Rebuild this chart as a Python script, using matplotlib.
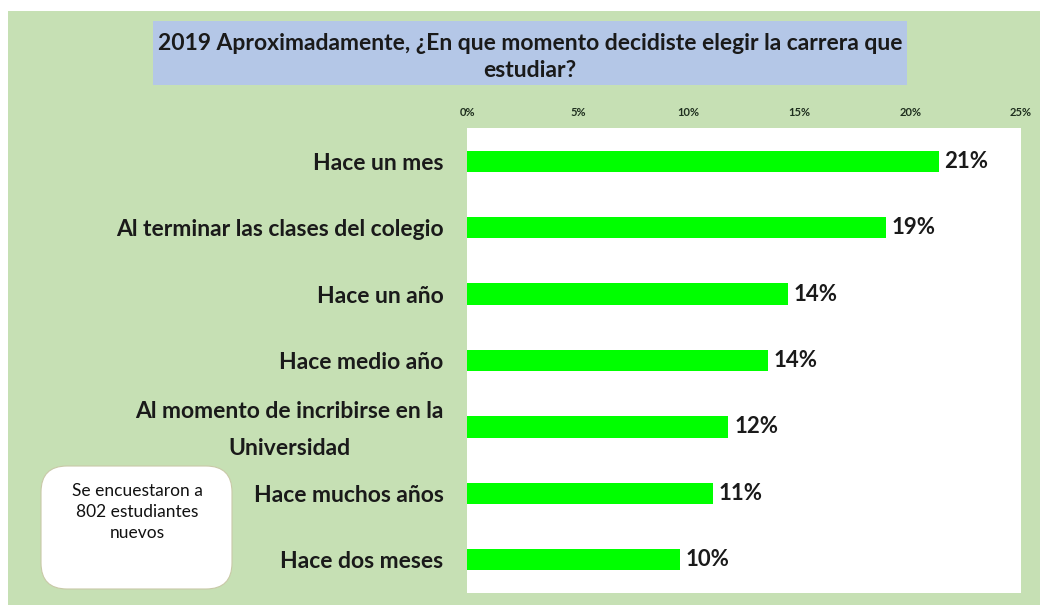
import matplotlib
matplotlib.use("Agg")
import matplotlib.pyplot as plt
from matplotlib.patches import Rectangle, FancyBboxPatch
from matplotlib.transforms import ScaledTranslation

plt.rcParams['font.family'] = ['Lato', 'DejaVu Sans']

categories = [
    "Hace un mes",
    "Al terminar las clases del colegio",
    "Hace un año",
    "Hace medio año",
    "Al momento de incribirse en la\nUniversidad",
    "Hace muchos años",
    "Hace dos meses",
]
values = [21.3, 18.9, 14.5, 13.6, 11.8, 11.1, 9.6]
value_labels = ["21%", "19%", "14%", "14%", "12%", "11%", "10%"]
xticks = [0, 5, 10, 15, 20, 25]
xtick_labels = ["0%", "5%", "10%", "15%", "20%", "25%"]
title = "2019 Aproximadamente, ¿En que momento decidiste elegir la carrera que\nestudiar?"
note = "Se encuestaron a\n802 estudiantes\nnuevos"

W, H = 1040, 605
fig = plt.figure(figsize=(W / 100, H / 100), dpi=100)
fig.patch.set_facecolor("white")

def fx(px):
    return px / W

def fy(py):
    return 1 - py / H

# green background panel
fig.patches.append(Rectangle((fx(8), 0), 1 - fx(8), fy(11), transform=fig.transFigure,
                             facecolor="#c6e0b4", edgecolor="none", zorder=-3))
# title box
fig.patches.append(Rectangle((fx(153), fy(85)), fx(907) - fx(153), fy(21) - fy(85),
                             transform=fig.transFigure, facecolor="#b4c7e7",
                             edgecolor="none", zorder=-2))
fig.text(fx(530), fy(57), title, ha="center", va="center", fontsize=16.5,
         fontweight="bold", color="#1a1a1a", linespacing=1.3, zorder=2)

ax = fig.add_axes([fx(467), fy(593), fx(1021) - fx(467), fy(128) - fy(593)])
ax.set_zorder(1)
ax.set_facecolor("white")
ypos = list(range(len(categories)))
bars = ax.barh(ypos, values, height=0.32, color="#00ff00", zorder=3)
ax.set_xlim(0, 25)
ax.set_ylim(len(categories) - 0.5, -0.5)
ax.set_yticks(ypos)
ax.set_yticklabels(categories, fontsize=16.5, fontweight="bold", color="#1a1a1a",
                   linespacing=1.9, multialignment="center")
ax.tick_params(axis="y", length=0, pad=17)
for lab in ax.get_yticklabels():
    if "\n" in lab.get_text():
        lab.set_transform(lab.get_transform() + ScaledTranslation(0, 0.065, fig.dpi_scale_trans))
ax.xaxis.tick_top()
ax.set_xticks(xticks)
ax.set_xticklabels(xtick_labels, fontsize=8, fontweight="bold", color="#1f2f1f")
ax.tick_params(axis="x", length=0, pad=7.5)
for s in ax.spines.values():
    s.set_visible(False)
ax.bar_label(bars, labels=value_labels, padding=4, fontsize=16, fontweight="bold",
             color="#1a1a1a")

# note box
box = FancyBboxPatch((fx(41), fy(589)), fx(232) - fx(41), fy(466) - fy(589),
                     boxstyle="round,pad=0.0,rounding_size=0.025",
                     transform=fig.transFigure, facecolor="white",
                     edgecolor="#c9c9a8", linewidth=0.8, zorder=2,
                     mutation_aspect=W / H)
fig.patches.append(box)
fig.text(fx(137), fy(512), note, ha="center", va="center", fontsize=12.5,
         color="#111111", linespacing=1.42, zorder=3)

fig.savefig("out.png", dpi=100, facecolor=fig.get_facecolor())
